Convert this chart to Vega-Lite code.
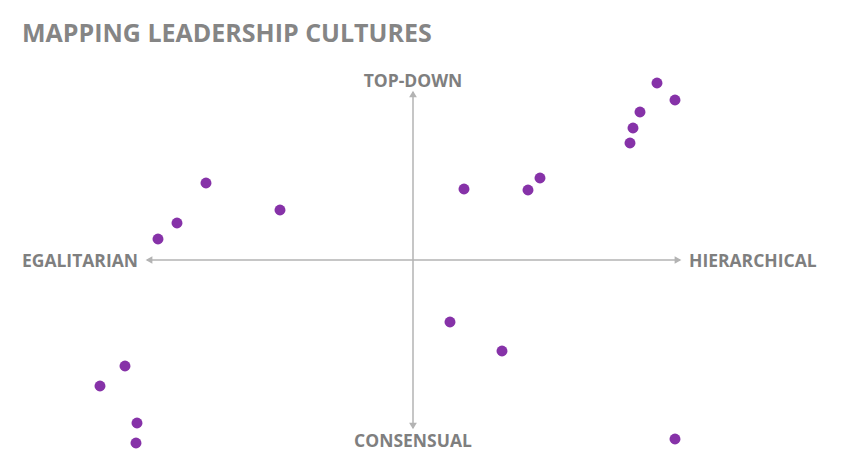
{
  "$schema": "https://vega.github.io/schema/vega-lite/v6.json",
  "width": 852,
  "height": 472,
  "autosize": {"type": "fit", "contains": "padding"},
  "padding": 0,
  "background": "white",
  "config": {"view": {"stroke": null}},
  "datasets": {
    "points": [
      {"x": 24.4, "y": 17.7}, {"x": 26.2, "y": 16.0}, {"x": 22.7, "y": 14.8},
      {"x": 22.0, "y": 13.2}, {"x": 21.7, "y": 11.7}, {"x": 12.7, "y": 8.2},
      {"x": 11.5, "y": 7.0}, {"x": 5.1, "y": 7.1}, {"x": -20.7, "y": 7.7},
      {"x": -13.3, "y": 5.0}, {"x": -23.6, "y": 3.7}, {"x": -25.5, "y": 2.1},
      {"x": 3.7, "y": -6.2}, {"x": 8.9, "y": -9.1}, {"x": -28.8, "y": -10.6},
      {"x": -31.3, "y": -12.6}, {"x": -27.6, "y": -16.3}, {"x": -27.7, "y": -18.3},
      {"x": 26.2, "y": -17.9}
    ],
    "axes": [
      {"x": -26.6, "x2": 26.7, "y": 0, "y2": 0},
      {"x": 0, "x2": 0, "y": 16.8, "y2": -16.8}
    ],
    "heads": [
      {"x": -26.4, "y": 0, "dir": "left"},
      {"x": 26.5, "y": 0, "dir": "right"},
      {"x": 0, "y": 16.6, "dir": "up"},
      {"x": 0, "y": -16.6, "dir": "down"}
    ]
  },
  "layer": [
    {
      "data": {"name": "axes"},
      "mark": {"type": "rule", "color": "#b3b3b3", "strokeWidth": 1.5},
      "encoding": {
        "x": {"field": "x", "type": "quantitative", "scale": {"domain": [-41.3, 43.9], "nice": false, "zero": false}, "axis": null},
        "x2": {"field": "x2"},
        "y": {"field": "y", "type": "quantitative", "scale": {"domain": [-21.2, 26.0], "nice": false, "zero": false}, "axis": null},
        "y2": {"field": "y2"}
      }
    },
    {
      "data": {"name": "heads"},
      "mark": {"type": "point", "filled": true, "color": "#b3b3b3", "size": 60, "opacity": 1},
      "encoding": {
        "x": {"field": "x", "type": "quantitative"},
        "y": {"field": "y", "type": "quantitative"},
        "shape": {"field": "dir", "type": "nominal", "legend": null,
          "scale": {"domain": ["left", "right", "up", "down"], "range": ["triangle-left", "triangle-right", "triangle-up", "triangle-down"]}}
      }
    },
    {
      "data": {"name": "points"},
      "mark": {"type": "circle", "color": "#8632a8", "size": 120, "opacity": 1},
      "encoding": {
        "x": {"field": "x", "type": "quantitative"},
        "y": {"field": "y", "type": "quantitative"}
      }
    },
    {
      "data": {"values": [{"x": 0, "y": 17.8, "label": "TOP-DOWN"}, {"x": 0, "y": -18.2, "label": "CONSENSUAL"}]},
      "mark": {"type": "text", "align": "center", "baseline": "middle", "font": "Open Sans", "fontWeight": "bold", "fontSize": 17.5, "color": "#7f7f7f"},
      "encoding": {
        "x": {"field": "x", "type": "quantitative"},
        "y": {"field": "y", "type": "quantitative"},
        "text": {"field": "label"}
      }
    },
    {
      "data": {"values": [{"x": -27.5, "y": -0.15, "label": "EGALITARIAN"}]},
      "mark": {"type": "text", "align": "right", "baseline": "middle", "font": "Open Sans", "fontWeight": "bold", "fontSize": 17.5, "color": "#7f7f7f"},
      "encoding": {
        "x": {"field": "x", "type": "quantitative"},
        "y": {"field": "y", "type": "quantitative"},
        "text": {"field": "label"}
      }
    },
    {
      "data": {"values": [{"x": 27.6, "y": -0.15, "label": "HIERARCHICAL"}]},
      "mark": {"type": "text", "align": "left", "baseline": "middle", "font": "Open Sans", "fontWeight": "bold", "fontSize": 17.5, "color": "#7f7f7f"},
      "encoding": {
        "x": {"field": "x", "type": "quantitative"},
        "y": {"field": "y", "type": "quantitative"},
        "text": {"field": "label"}
      }
    },
    {
      "data": {"values": [{"x": -39.1, "y": 21.8, "label": "MAPPING LEADERSHIP CULTURES"}]},
      "mark": {"type": "text", "align": "left", "baseline": "alphabetic", "font": "Open Sans", "fontWeight": "bold", "fontSize": 25, "color": "#858585"},
      "encoding": {
        "x": {"field": "x", "type": "quantitative"},
        "y": {"field": "y", "type": "quantitative"},
        "text": {"field": "label"}
      }
    }
  ]
}
